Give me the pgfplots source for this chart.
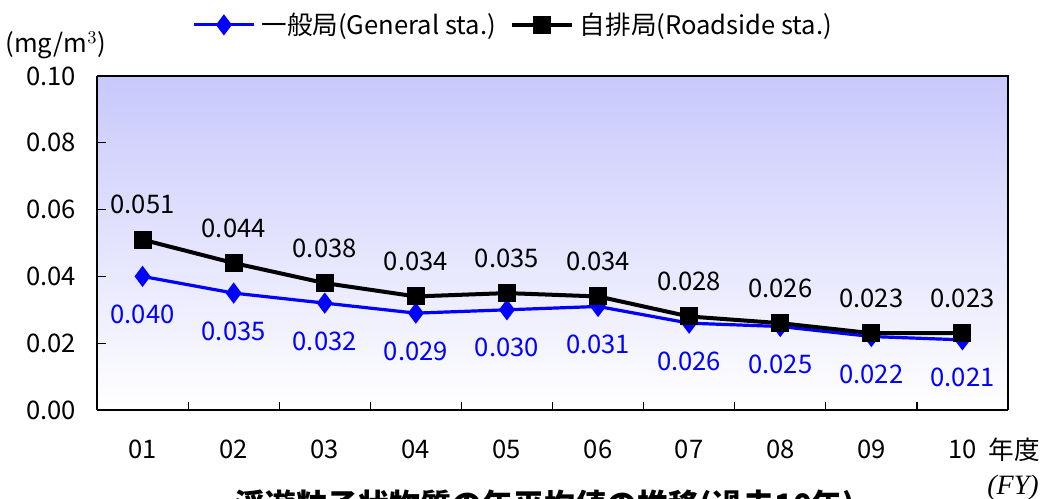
\documentclass[border=0pt]{standalone}
\usepackage{fontspec}
\setmainfont{Noto Sans CJK JP}
\newfontfamily\fyfont{Liberation Serif}
\usepackage{pgfplots}
\pgfplotsset{compat=1.18}
\usepackage{pgfplotstable}

\pgfplotstableread{
x y label
0 0.040 0.040
1 0.035 0.035
2 0.032 0.032
3 0.029 0.029
4 0.030 0.030
5 0.031 0.031
6 0.026 0.026
7 0.025 0.025
8 0.022 0.022
9 0.021 0.021
}\general
\pgfplotstableread{
x y label
0 0.051 0.051
1 0.044 0.044
2 0.038 0.038
3 0.034 0.034
4 0.035 0.035
5 0.034 0.034
6 0.028 0.028
7 0.026 0.026
8 0.023 0.023
9 0.023 0.023
}\roadside

\definecolor{bgtop}{RGB}{200,200,252}

\begin{document}
\begin{tikzpicture}[font=\fontsize{12.8bp}{15bp}\selectfont]
\path[use as bounding box] (-48.5bp,-44.5bp) rectangle (474bp,205bp);
\begin{axis}[
  at={(0,0)}, anchor=south west,
  scale only axis,
  width=455.5bp, height=167bp,
  xmin=-0.5, xmax=9.5,
  ymin=0, ymax=0.10,
  axis background/.style={top color=bgtop, bottom color=white},
  axis line style={line width=0.7bp, black},
  axis x line*=bottom,
  axis y line*=left,
  xtick={0,...,9},
  xticklabels={01,02,03,04,05,06,07,08,09,10},
  major x tick style={draw=none},
  minor xtick={0.5,1.5,...,8.5},
  minor tick length=4bp,
  minor x tick style={black, line width=0.6bp},
  ytick={0,0.02,...,0.1},
  yticklabel style={/pgf/number format/.cd, fixed, fixed zerofill, precision=2, /tikz/.cd, anchor=east, xshift=-7bp},
  /pgf/number format/assume math mode=true,
  y tick style={black, line width=0.6bp},
  major tick length=4.5bp,
  tick align=inside,
  xticklabel style={anchor=center, yshift=-19.5bp},
  ticklabel style={font=\fontsize{12.8bp}{15bp}\selectfont},
  clip=false,
  legend columns=2,
  legend style={draw=none, fill=none, at={(0.458,1.153)}, anchor=center,
    font=\fontsize{12.8bp}{15bp}\selectfont,
    /tikz/every odd column/.append style={column sep=1bp},
    /tikz/every even column/.append style={column sep=5bp},
    inner sep=0pt, cells={anchor=west}},
  legend image code/.code={\draw[mark repeat=2,mark phase=2] plot coordinates {(0bp,0bp) (15bp,0bp) (30bp,0bp)};},
  point meta=explicit symbolic,
  nodes near coords,
]
\addplot[blue, line width=1.6bp, mark=diamond*, mark size=4bp, mark options={solid, fill=blue},
  nodes near coords style={blue, anchor=center, yshift=-19bp, font=\fontsize{12.8bp}{15bp}\selectfont}]
  table[x=x, y=y, meta=label] {\general};
\addlegendentry{一般局(General sta.)}
\addplot[black, line width=2bp, mark=square*, mark size=3.5bp, mark options={solid, fill=black},
  nodes near coords style={black, anchor=center, yshift=17.5bp, font=\fontsize{12.8bp}{15bp}\selectfont}]
  table[x=x, y=y, meta=label] {\roadside};
\addlegendentry{自排局(Roadside sta.)}
\draw[black, line width=0.7bp] (rel axis cs:0,1) -- (rel axis cs:1,1) -- (rel axis cs:1,0);
\end{axis}
\node[anchor=west, inner sep=0pt] at (-46bp,182.5bp) {(mg/m$^{3}$)};
\node[anchor=west, inner sep=0pt] at (445.5bp,-20bp) {年度};
\node[anchor=west, inner sep=0pt] at (445bp,-39bp) {\fyfont\itshape\fontsize{14bp}{16bp}\selectfont (FY)};
\node[anchor=north, inner sep=0pt] at (224bp,-39.5bp) {\bfseries\fontsize{15.5bp}{18bp}\selectfont 浮遊粒子状物質の年平均値の推移(過去10年)};
\end{tikzpicture}
\end{document}
